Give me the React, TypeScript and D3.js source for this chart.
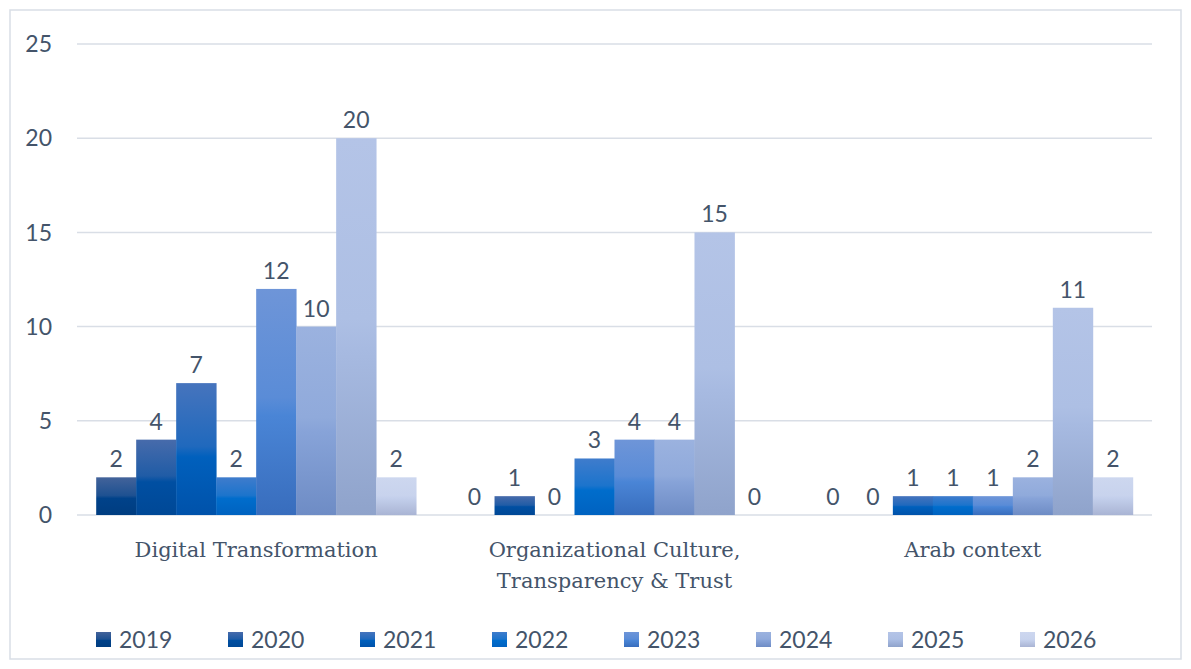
import React, { useEffect } from 'react';
import * as d3 from 'd3';

const categories = ['Digital Transformation', 'Organizational Culture, Transparency & Trust', 'Arab context'];
const categoryLines = [['Digital Transformation'], ['Organizational Culture,', 'Transparency & Trust'], ['Arab context']];
const years = ['2019', '2020', '2021', '2022', '2023', '2024', '2025', '2026'];
// one row per category, one value per year
const digitalTransformation = [2, 4, 7, 2, 12, 10, 20, 2];
const orgCulture = [0, 1, 0, 3, 4, 4, 15, 0];
const arabContext = [0, 0, 1, 1, 1, 2, 11, 2];
const values = [digitalTransformation, orgCulture, arabContext];
const yTicks = [0, 5, 10, 15, 20, 25];

// gradient stops per year: top tint, middle, bottom
const tintColors = ['#43639a', '#476bab', '#4674bd', '#3f7ccc', '#6e95d8', '#9bb2df', '#b4c4e7', '#cdd7ef'];
const midColors = ['#00428a', '#004fa2', '#0060bd', '#006dcc', '#4a85d6', '#87a3d8', '#a7bae1', '#c3cfeb'];
const shadeColors = ['#003d80', '#004896', '#0052aa', '#0062c0', '#386dbd', '#6e8cc5', '#8fa3cb', '#a9b4d4'];

const W = 1191;
const H = 669;
const textColor = '#44546a';
const gridColor = '#d9dee6';
const numFont = 'Lato, "Open Sans", sans-serif';
const catFont = '"DejaVu Serif", serif';

const App: React.FC = () => {
  useEffect(() => {
    document.body.style.margin = '0';
  }, []);

  const x0 = d3.scaleBand().domain(categories).range([77, 1152]).paddingInner(0).paddingOuter(0);
  const x1 = d3.scaleBand().domain(years).range([0, x0.bandwidth()]).paddingInner(0).paddingOuter(0.48);
  const y = d3.scaleLinear().domain([0, 25]).range([515, 44]);
  const legendX = d3.scaleBand().domain(years).range([96, 96 + 132 * years.length]);

  return (
    <svg width={W} height={H} style={{ display: 'block', background: '#fff' }}>
      <defs>
        {years.map((yr, i) => (
          <linearGradient key={yr} id={`grad-${yr}`} x1="0" y1="0" x2="0" y2="1">
            <stop offset="0%" stopColor={tintColors[i]} />
            <stop offset="48%" stopColor={d3.interpolateRgb(tintColors[i], midColors[i])(0.55)} />
            <stop offset="56%" stopColor={midColors[i]} />
            <stop offset="100%" stopColor={shadeColors[i]} />
          </linearGradient>
        ))}
      </defs>

      <rect x={10} y={10} width={1171} height={649} fill="#fff" stroke={gridColor} strokeWidth={1.5} />

      {/* gridlines */}
      {yTicks.map((t) => (
        <g key={t}>
          <line x1={77} x2={1152} y1={y(t)} y2={y(t)} stroke={gridColor} strokeWidth={1.5} />
          <text
            x={52}
            y={y(t)}
            dy="0.36em"
            textAnchor="end"
            fontFamily={numFont}
            fontSize={23}
            fill={textColor}
          >
            {t}
          </text>
        </g>
      ))}

      {/* bars */}
      {categories.map((cat, ci) => (
        <g key={cat} transform={`translate(${x0(cat)},0)`}>
          {years.map((yr, yi) => {
            const v = values[ci][yi];
            const bx = x1(yr)!;
            const bw = x1.bandwidth();
            return (
              <g key={yr}>
                {v > 0 && (
                  <rect x={bx} y={y(v)} width={bw + 0.4} height={y(0) - y(v)} fill={`url(#grad-${yr})`} />
                )}
                <text
                  x={bx + bw / 2}
                  y={y(v) - 10}
                  textAnchor="middle"
                  fontFamily={numFont}
                  fontSize={23}
                  fill={textColor}
                >
                  {v}
                </text>
              </g>
            );
          })}
          <text
            x={x0.bandwidth() / 2}
            y={557}
            textAnchor="middle"
            fontFamily={catFont}
            fontSize={21}
            fill={textColor}
          >
            {categoryLines[ci].map((ln, li) => (
              <tspan key={li} x={x0.bandwidth() / 2} dy={li === 0 ? 0 : 31}>
                {ln}
              </tspan>
            ))}
          </text>
        </g>
      ))}

      {/* legend */}
      {years.map((yr) => (
        <g key={yr} transform={`translate(${legendX(yr)},0)`}>
          <rect x={0} y={632} width={15} height={15} fill={`url(#grad-${yr})`} />
          <text x={23} y={648} fontFamily={numFont} fontSize={23} fill={textColor}>
            {yr}
          </text>
        </g>
      ))}
    </svg>
  );
};

export default App;
